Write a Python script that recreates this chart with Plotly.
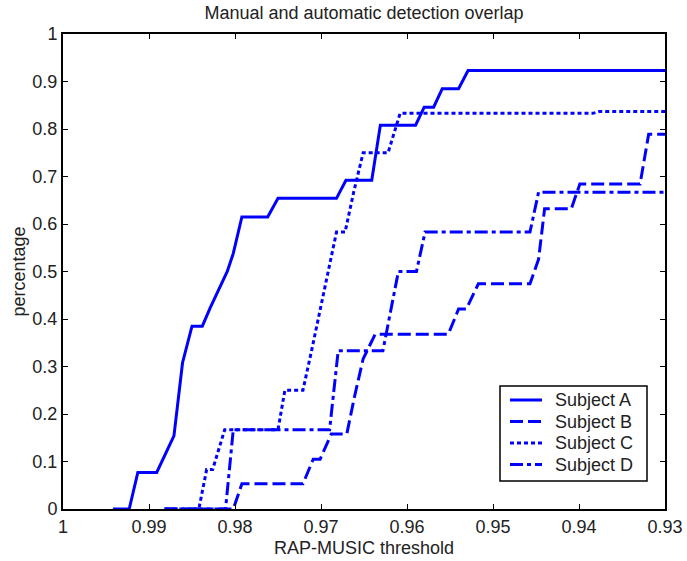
import plotly.graph_objects as go

# RAP-MUSIC threshold values and detection overlap per subject
subj_a_x = [0.9942, 0.9923, 0.9913, 0.9891, 0.9871, 0.9861, 0.9850, 0.9838, 0.9829,
            0.9819, 0.9809, 0.9802, 0.9792, 0.9762, 0.9750, 0.9682, 0.9671, 0.9641,
            0.9631, 0.9590, 0.9580, 0.9569, 0.9559, 0.9540, 0.9529, 0.93]
subj_a_y = [0, 0, 0.077, 0.077, 0.154, 0.308, 0.385, 0.385, 0.423,
            0.462, 0.5, 0.538, 0.615, 0.615, 0.654, 0.654, 0.692, 0.692,
            0.808, 0.808, 0.846, 0.846, 0.885, 0.885, 0.923, 0.923]

subj_b_x = [0.9882, 0.9802, 0.9792, 0.9721, 0.9709, 0.9701, 0.9688, 0.9670, 0.9661,
            0.9651, 0.9637, 0.9552, 0.9540, 0.9531, 0.9517, 0.9457, 0.9447, 0.9440,
            0.9409, 0.9399, 0.9329, 0.9319, 0.93]
subj_b_y = [0, 0, 0.053, 0.053, 0.105, 0.105, 0.158, 0.158, 0.237,
            0.316, 0.368, 0.368, 0.421, 0.421, 0.474, 0.474, 0.526, 0.632,
            0.632, 0.684, 0.684, 0.789, 0.789]

subj_c_x = [0.9881, 0.9842, 0.9833, 0.9826, 0.9812, 0.9750, 0.9742, 0.9721, 0.9711,
            0.9701, 0.9692, 0.9682, 0.9672, 0.9662, 0.9651, 0.9622, 0.9608, 0.9384,
            0.9376, 0.93]
subj_c_y = [0, 0, 0.083, 0.083, 0.167, 0.167, 0.25, 0.25, 0.333,
            0.417, 0.5, 0.583, 0.583, 0.667, 0.75, 0.75, 0.833, 0.833,
            0.837, 0.837]

subj_d_x = [0.9882, 0.9811, 0.9802, 0.9690, 0.9680, 0.9628, 0.9619, 0.9610, 0.9589,
            0.9579, 0.9457, 0.9447, 0.93]
subj_d_y = [0, 0, 0.167, 0.167, 0.333, 0.333, 0.417, 0.5, 0.5,
            0.583, 0.583, 0.667, 0.667]

x_ticks = [1, 0.99, 0.98, 0.97, 0.96, 0.95, 0.94, 0.93]
x_tick_text = ["1", "0.99", "0.98", "0.97", "0.96", "0.95", "0.94", "0.93"]
y_ticks = [0, 0.1, 0.2, 0.3, 0.4, 0.5, 0.6, 0.7, 0.8, 0.9, 1]
y_tick_text = ["0", "0.1", "0.2", "0.3", "0.4", "0.5", "0.6", "0.7", "0.8", "0.9", "1"]

series_names = ["Subject A", "Subject B", "Subject C", "Subject D"]
series_x = [subj_a_x, subj_b_x, subj_c_x, subj_d_x]
series_y = [subj_a_y, subj_b_y, subj_c_y, subj_d_y]
series_dash = ["solid", "13px,5px", "4px,3px", "13px,4px,4px,4px"]

FONT = "Liberation Sans, Arial, sans-serif"
TEXT = "#222"
BLUE = "#0000ff"
W, H = 687, 561
ML, MR, MT, MB = 63, 22, 34, 52
PW, PH = W - ML - MR, H - MT - MB


def px_x(p):
    """Pixel column -> paper x."""
    return (p - ML) / PW


def px_y(p):
    """Pixel row -> paper y."""
    return (H - MB - p) / PH


fig = go.Figure()
for name, xs, ys, dash in zip(series_names, series_x, series_y, series_dash):
    fig.add_trace(go.Scatter(
        x=xs, y=ys, mode="lines", name=name, showlegend=False,
        line=dict(color=BLUE, width=3, dash=dash),
    ))

axis_common = dict(
    showline=True, linecolor="black", linewidth=2, mirror="ticks",
    ticks="inside", ticklen=5, tickwidth=1, tickcolor="black",
    showgrid=False, zeroline=False, automargin=False,
    tickfont=dict(family=FONT, size=18, color=TEXT),
)

# legend box with line samples and labels
shapes = [dict(type="rect", xref="paper", yref="paper",
               x0=px_x(500), x1=px_x(647), y0=px_y(481), y1=px_y(386),
               line=dict(color="black", width=1.5), fillcolor="white", layer="above")]
annotations = []
for i, (name, dash) in enumerate(zip(series_names, series_dash)):
    row = 400 + 21.5 * i
    shapes.append(dict(type="line", xref="paper", yref="paper",
                       x0=px_x(510), x1=px_x(542), y0=px_y(row), y1=px_y(row),
                       line=dict(color=BLUE, width=3, dash=dash), layer="above"))
    annotations.append(dict(text=name, xref="paper", yref="paper",
                            x=px_x(553), y=px_y(row), xanchor="left", yanchor="middle",
                            showarrow=False, font=dict(family=FONT, size=18, color=TEXT)))

# axis titles
annotations.append(dict(text="RAP-MUSIC threshold", xref="paper", yref="paper",
                        x=0.5, y=0, xanchor="center", yanchor="middle", yshift=-39,
                        showarrow=False, font=dict(family=FONT, size=18, color=TEXT)))
annotations.append(dict(text="percentage", xref="paper", yref="paper",
                        x=0, y=0.5, xanchor="center", yanchor="middle", xshift=-45,
                        textangle=-90, showarrow=False,
                        font=dict(family=FONT, size=18, color=TEXT)))

fig.update_layout(
    width=W, height=H,
    margin=dict(l=ML, r=MR, t=MT, b=MB, autoexpand=False),
    paper_bgcolor="white", plot_bgcolor="white",
    font=dict(family=FONT, color=TEXT),
    title=dict(text="Manual and automatic detection overlap",
               x=0.5, xref="paper", xanchor="center",
               y=1 - 13 / H, yanchor="middle",
               font=dict(family=FONT, size=18, color=TEXT)),
    xaxis=dict(range=[1, 0.93], tickvals=x_ticks, ticktext=x_tick_text, **axis_common),
    yaxis=dict(range=[0, 1], tickvals=y_ticks, ticktext=y_tick_text, **axis_common),
    shapes=shapes,
    annotations=annotations,
    showlegend=False,
)

fig.write_html("out.html")
